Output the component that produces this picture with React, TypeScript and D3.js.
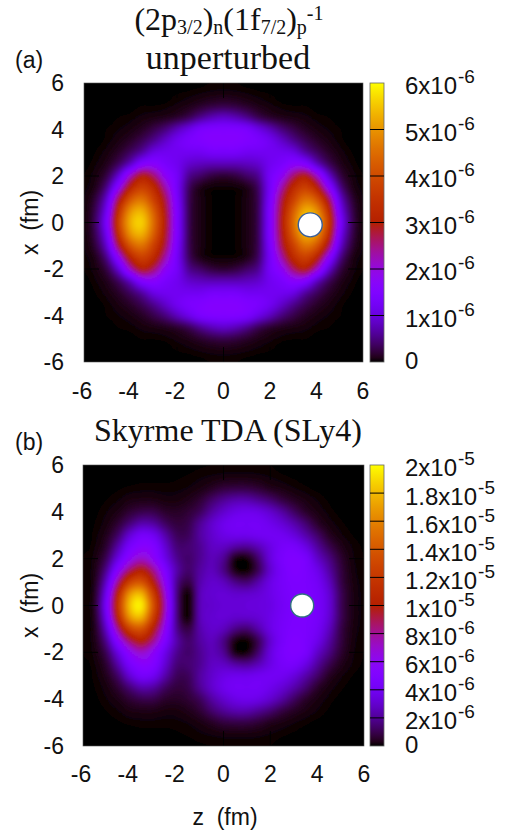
import React, { useEffect, useRef } from 'react';
import * as d3 from 'd3';

// density, unit 1e-7, rows x = 0 .. 6 (mirrored for x < 0)
// unperturbed columns z = -6 .. 0 in 0.5 steps (the map is mirror symmetric in z)
const unperturbedHalf = [
  [.3, 4, 15, 38, 53, 56, 45, 30, 15, 3.5, .8, .1, 0],
  [.3, 3.5, 13, 35, 50, 53, 43, 29, 15, 3.5, .8, .1, 0],
  [.3, 2.5, 10, 28, 42, 46, 38, 27, 14, 3.5, .8, .1, 0],
  [.2, 1.2, 6, 18, 32, 38, 33, 23, 13, 4, 1, .3, .2],
  [.1, .7, 3, 10, 22, 30, 26, 18, 13, 6, 4, 2.5, 2],
  [0, .3, 1.3, 4, 9, 16, 17, 14, 12, 9, 8, 7.5, 7.5],
  [0, .1, .6, 1.8, 4, 7, 11, 12, 12, 12, 12, 13, 13],
  [0, 0, .2, .8, 1.8, 3.5, 6, 9, 12, 14, 15, 16, 16],
  [0, 0, .1, .3, .7, 1.5, 3, 5, 8, 11, 14, 15, 15],
  [0, 0, 0, .1, .2, .5, .8, 1.2, 2, 3.5, 6, 8, 9],
  [0, 0, 0, 0, 0, .1, .1, .2, .5, 1, 1.8, 2.6, 3],
  [0, 0, 0, 0, 0, 0, 0, 0, .1, .2, .4, .6, .7],
  [0, 0, 0, 0, 0, 0, 0, 0, 0, 0, 0, .1, .1],
];

// TDA columns z = -6 .. 6 in 0.5 steps
const tdaRows = [
  [.6, 6, 45, 118, 182, 195, 138, 75, 18, .5, 26, 30, 32, 32, 33, 34, 36, 42, 46, 46, 44, 33, 12, 3, .6],
  [.6, 5, 40, 108, 168, 178, 126, 70, 18, 1, 26, 31, 32, 30, 30, 32, 37, 43, 47, 47, 44, 32, 12, 3, .6],
  [.5, 4, 30, 82, 128, 138, 102, 60, 20, 9, 24, 30, 27, 18, 15, 24, 36, 44, 48, 47, 42, 28, 10, 2.5, .5],
  [.4, 3, 20, 56, 88, 102, 82, 50, 24, 14, 22, 27, 18, 3, 1, 12, 31, 44, 50, 47, 38, 23, 9, 2, .4],
  [.3, 2, 12, 36, 60, 72, 60, 38, 20, 14, 20, 26, 20, 3, 2, 15, 34, 46, 50, 46, 30, 18, 7, 1.5, .3],
  [.2, 1, 7, 24, 46, 56, 52, 32, 16, 15, 20, 28, 28, 22, 20, 26, 36, 44, 45, 36, 22, 11, 4, 1, .2],
  [.1, .6, 4, 14, 32, 44, 40, 24, 12, 12, 22, 30, 36, 38, 38, 40, 41, 40, 34, 24, 14, 5, 1.5, .3, .1],
  [.1, .3, 2, 7, 16, 24, 22, 13, 8, 10, 20, 30, 38, 42, 42, 42, 38, 32, 24, 15, 6, 2, .5, .1, 0],
  [0, .1, 1, 3, 7, 10, 10, 6, 5, 7, 12, 22, 30, 36, 38, 36, 30, 22, 13, 6, 2.5, .7, .1, 0, 0],
  [0, 0, .3, 1, 2.5, 3, 3, 2, 2, 3.5, 7, 14, 20, 24, 24, 20, 15, 9, 5, 2.5, 1, .2, 0, 0, 0],
  [0, 0, .1, .2, .5, .7, .7, .6, .7, 1.2, 2.5, 5, 8, 9, 9, 7, 4, 2.5, 1.2, .5, .1, 0, 0, 0, 0],
  [0, 0, 0, 0, .1, .1, .1, .1, .2, .4, .8, 1.3, 1.8, 2, 2, 1.6, 1, .5, .2, .1, 0, 0, 0, 0, 0],
  [0, 0, 0, 0, 0, 0, 0, 0, 0, .1, .2, .3, .4, .5, .5, .4, .3, .1, 0, 0, 0, 0, 0, 0, 0],
];

const axisTicks = [-6, -4, -2, 0, 2, 4, 6];
const cbTicksA = [0, 1, 2, 3, 4, 5, 6]; // 1e-6
const cbLabelsA = ['0', '1x10', '2x10', '3x10', '4x10', '5x10', '6x10'];
const cbExpA = ['', '-6', '-6', '-6', '-6', '-6', '-6'];
const cbTicksB = [0, 2, 4, 6, 8, 10, 12, 14, 16, 18, 20]; // 1e-6
const cbLabelsB = ['0', '2x10', '4x10', '6x10', '8x10', '1x10', '1.2x10', '1.4x10', '1.6x10', '1.8x10', '2x10'];
const cbExpB = ['', '-6', '-6', '-6', '-6', '-5', '-5', '-5', '-5', '-5', '-5'];

// gnuplot's default pm3d palette (rgbformulae 7,5,15)
const palette = (t: number) => {
  const c = Math.max(0, Math.min(1, t));
  return d3.rgb(255 * Math.sqrt(c), 255 * c * c * c, 255 * Math.max(0, Math.sin(2 * Math.PI * c))).formatHex();
};

const SANS = '"Liberation Sans", Arial, sans-serif';
const SERIF = '"Liberation Serif", "Times New Roman", serif';
const REFINE = 4; // pm3d style smoothing of the read grid

// smooth the grid for drawing only, the way gnuplot's "pm3d interpolate" does
const catmull = (a: number, b: number, c: number, d: number, t: number) =>
  0.5 * (2 * b + (c - a) * t + (2 * a - 5 * b + 4 * c - d) * t * t + (3 * b - a - 3 * c + d) * t * t * t);

const refineLine = (line: number[]) => {
  const out: number[] = [];
  const at = (i: number) => line[Math.max(0, Math.min(line.length - 1, i))];
  for (let i = 0; i < line.length - 1; i++) {
    for (let k = 0; k < REFINE; k++) {
      out.push(Math.max(0, catmull(at(i - 1), at(i), at(i + 1), at(i + 2), k / REFINE)));
    }
  }
  out.push(line[line.length - 1]);
  return out;
};

const refineGrid = (rows: number[][]) => {
  const wide = rows.map(refineLine);
  const cols = d3.range(wide[0].length).map((j) => refineLine(wide.map((r) => r[j])));
  return d3.range(cols[0].length).map((i) => cols.map((c) => c[i]));
};

const drawPanel = (svg: any, cfg: any) => {
  const { id, rows, max, top, bottom, left, right, cbLeft, cbRight, ticks, labels, exps, cbMax, hole, holeColor, xLabelY } = cfg;

  const zScale = d3.scaleLinear().domain([-6, 6]).range([left, right]);
  const xScale = d3.scaleLinear().domain([-6, 6]).range([bottom, top]);
  const cbScale = d3.scaleLinear().domain([0, cbMax]).range([bottom, top]);

  // rows run x=0..6, the map runs top (x=6) to bottom (x=-6)
  const fullRows = [...rows.slice(1).reverse(), ...rows];
  const fine = refineGrid(fullRows);
  const size = fine.length;
  const step = 0.5 / REFINE;

  // more levels near zero, the palette climbs fast there
  const levels = d3.range(0, 1, 1 / 150).map((t) => max * Math.pow(t, 1.5)).filter((v) => v > 0);
  const contours = d3.contours().size([size, size]).thresholds(levels)(fine.flat());
  const path = d3.geoPath(d3.geoTransform({
    point(this: any, cx: number, cy: number) {
      // contour coordinates put sample i at i + 0.5; first grid row is x = 6
      this.stream.point(zScale(-6 + (cx - 0.5) * step), xScale(6 - (cy - 0.5) * step));
    },
  }));

  const defs = svg.append('defs');
  defs.append('clipPath').attr('id', `clip-${id}`).append('rect')
    .attr('x', left).attr('y', top).attr('width', right - left).attr('height', bottom - top);
  defs.append('filter').attr('id', `blur-${id}`)
    .attr('x', '-5%').attr('y', '-5%').attr('width', '110%').attr('height', '110%')
    .append('feGaussianBlur').attr('stdDeviation', 1.5);
  const grad = defs.append('linearGradient').attr('id', `cb-${id}`)
    .attr('x1', 0).attr('x2', 0).attr('y1', 1).attr('y2', 0);
  d3.range(0, 1.0001, 1 / 64).forEach((t) => {
    grad.append('stop').attr('offset', t).attr('stop-color', palette(t));
  });

  const clip = svg.append('g').attr('clip-path', `url(#clip-${id})`);
  clip.append('rect').attr('x', left).attr('y', top).attr('width', right - left).attr('height', bottom - top).attr('fill', '#000');
  clip.append('g').attr('filter', `url(#blur-${id})`)
    .selectAll('path').data(contours).join('path')
    .attr('d', (d: any) => path(d))
    .attr('fill', (d: any) => palette(d.value / max));

  // inward ticks on all four sides
  const tickG = svg.append('g').attr('stroke', '#000').attr('stroke-width', 1);
  axisTicks.slice(1, -1).forEach((t) => {
    const px = zScale(t);
    const py = xScale(t);
    tickG.append('line').attr('x1', px).attr('x2', px).attr('y1', top).attr('y2', top + 15);
    tickG.append('line').attr('x1', px).attr('x2', px).attr('y1', bottom - 15).attr('y2', bottom);
    tickG.append('line').attr('x1', left).attr('x2', left + 15).attr('y1', py).attr('y2', py);
    tickG.append('line').attr('x1', right - 15).attr('x2', right).attr('y1', py).attr('y2', py);
  });
  svg.append('rect').attr('x', left).attr('y', top).attr('width', right - left).attr('height', bottom - top)
    .attr('fill', 'none').attr('stroke', '#555').attr('stroke-width', 0.6);

  // white nucleon marker
  svg.append('circle')
    .attr('cx', zScale(hole.z)).attr('cy', xScale(hole.x)).attr('r', hole.r)
    .attr('fill', '#fff').attr('stroke', holeColor).attr('stroke-width', 1.4);

  const label = svg.append('g').attr('font-family', SANS).attr('font-size', 23).attr('fill', '#111');
  axisTicks.forEach((t) => {
    label.append('text').attr('x', 64).attr('y', xScale(t)).attr('dy', '.35em').attr('text-anchor', 'end').text(t);
    label.append('text').attr('x', zScale(t) - (t < 0 ? 2 : 0)).attr('y', xLabelY).attr('dy', '.35em').attr('text-anchor', 'middle').text(t);
  });
  label.append('text')
    .attr('transform', `translate(30,${(top + bottom) / 2}) rotate(-90)`)
    .attr('text-anchor', 'middle').attr('dy', '.35em').text('x\u00a0\u00a0(fm)');

  // colorbar
  svg.append('rect').attr('x', cbLeft).attr('y', top).attr('width', cbRight - cbLeft).attr('height', bottom - top)
    .attr('fill', `url(#cb-${id})`).attr('stroke', '#666').attr('stroke-width', 0.8);
  ticks.forEach((t: number, i: number) => {
    const py = cbScale(t);
    if (i > 0 && i < ticks.length - 1) {
      svg.append('line').attr('x1', cbLeft).attr('x2', cbRight).attr('y1', py).attr('y2', py)
        .attr('stroke', '#000').attr('stroke-width', 1);
    }
    const txt = label.append('text').attr('x', 405).attr('y', py + (i === 0 ? -1 : 3)).attr('dy', '.35em').attr('font-size', 24);
    txt.append('tspan').text(labels[i]);
    if (exps[i]) txt.append('tspan').attr('dx', 1).attr('dy', -11).attr('font-size', 19).text(exps[i]);
  });
};

const App = () => {
  const svgRef = useRef<SVGSVGElement | null>(null);

  useEffect(() => {
    const svg = d3.select(svgRef.current);
    svg.selectAll('*').remove();

    drawPanel(svg, {
      id: 'a', rows: unperturbedHalf.map((r) => [...r, ...r.slice(0, -1).reverse()]), max: 60, cbMax: 6,
      top: 83, bottom: 362, left: 84, right: 363,
      cbLeft: 370, cbRight: 384, ticks: cbTicksA, labels: cbLabelsA, exps: cbExpA,
      hole: { z: 3.73, x: -0.1, r: 12 }, holeColor: '#3a5f9a', xLabelY: 391,
    });
    drawPanel(svg, {
      id: 'b', rows: tdaRows, max: 200, cbMax: 20, top: 465, bottom: 746, left: 83, right: 364,
      cbLeft: 370, cbRight: 384, ticks: cbTicksB, labels: cbLabelsB, exps: cbExpB,
      hole: { z: 3.36, x: 0, r: 11.5 }, holeColor: '#2f6f80', xLabelY: 774,
    });

    const sans = svg.append('g').attr('font-family', SANS).attr('font-size', 23).attr('fill', '#111');
    sans.append('text').attr('x', 15).attr('y', 68).text('(a)');
    sans.append('text').attr('x', 15).attr('y', 450).text('(b)');
    sans.append('text').attr('x', 225).attr('y', 825).attr('text-anchor', 'middle').text('z\u00a0\u00a0(fm)');

    const serif = svg.append('g').attr('font-family', SERIF).attr('fill', '#111').attr('text-anchor', 'middle');
    const head = serif.append('text').attr('x', 229).attr('y', 30).attr('font-size', 32);
    head.append('tspan').text('(2p');
    head.append('tspan').attr('dy', 4).attr('font-size', 20).text('3/2');
    head.append('tspan').attr('dy', -4).text(')');
    head.append('tspan').attr('dy', 4).attr('font-size', 20).text('n');
    head.append('tspan').attr('dy', -4).text('(1f');
    head.append('tspan').attr('dy', 4).attr('font-size', 20).text('7/2');
    head.append('tspan').attr('dy', -4).text(')');
    head.append('tspan').attr('dy', 4).attr('font-size', 20).text('p');
    head.append('tspan').attr('dy', -14).attr('font-size', 20).text('-1');
    serif.append('text').attr('x', 228).attr('y', 69).attr('font-size', 34).text('unperturbed');
    serif.append('text').attr('x', 228).attr('y', 441).attr('font-size', 32).text('Skyrme TDA (SLy4)');
  }, []);

  return (
    <svg
      ref={svgRef}
      width={505}
      height={834}
      style={{ position: 'absolute', left: 0, top: 0, background: '#fff' }}
    />
  );
};

export default App;
